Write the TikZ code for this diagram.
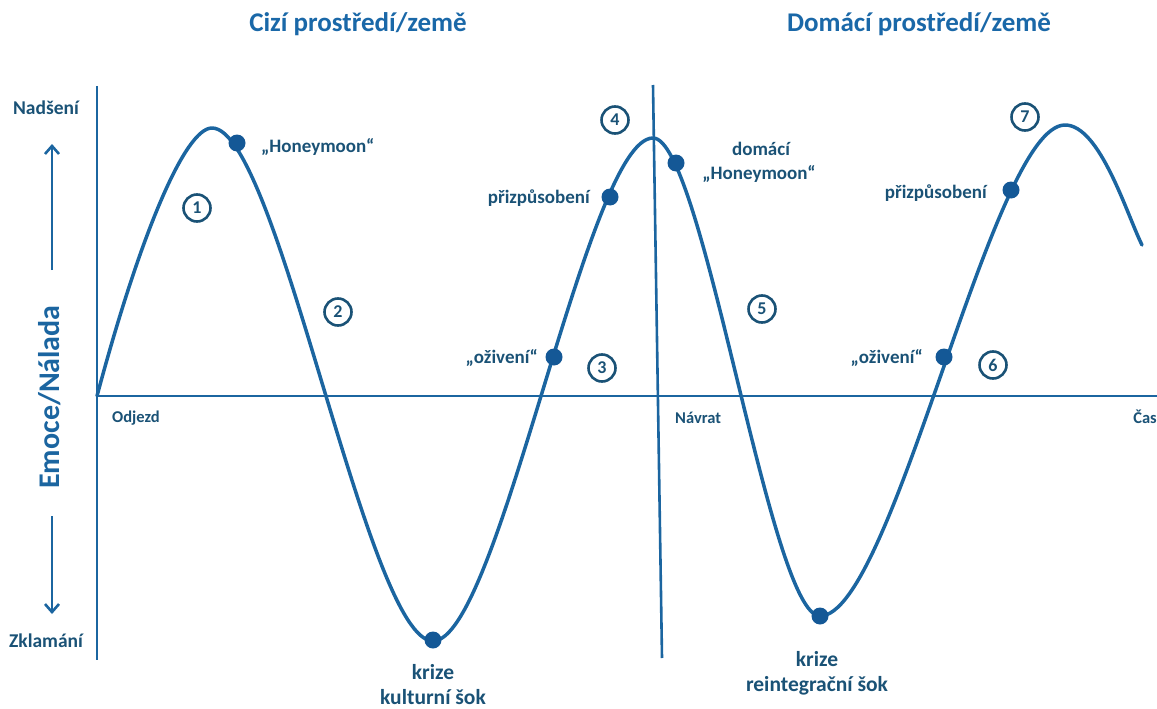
\documentclass[tikz,border=0pt]{standalone}
\usepackage{fontspec}
\setmainfont{Carlito}
\usetikzlibrary{arrows.meta}
\definecolor{lineblue}{RGB}{27,101,160}
\definecolor{dotblue}{RGB}{20,88,150}
\definecolor{textblue}{RGB}{26,82,118}
\definecolor{titleblue}{RGB}{26,104,168}
\begin{document}
\begin{tikzpicture}[x=1pt,y=-1pt,
  curve/.style={lineblue,line width=3.5pt,line join=round,line cap=round},
  axis/.style={lineblue,line width=2.6pt},
  dot/.style={circle,fill=dotblue,inner sep=0pt,minimum size=17pt},
  num/.style={circle,draw=textblue,line width=2.6pt,minimum size=27pt,inner sep=0pt,
    font=\fontsize{18}{18}\selectfont\bfseries,text=textblue},
  lbl/.style={font=\fontsize{19}{24}\selectfont\bfseries,text=textblue,inner sep=0pt,align=center},
  big/.style={font=\fontsize{21.5}{25.5}\selectfont\bfseries,text=textblue,inner sep=0pt,align=center},
  small/.style={font=\fontsize{16.5}{18}\selectfont\bfseries,text=textblue,inner sep=0pt},
  side/.style={font=\fontsize{19.5}{22}\selectfont\bfseries,text=textblue,inner sep=0pt},
  title/.style={font=\fontsize{27}{30}\selectfont\bfseries,text=titleblue,inner sep=0pt},
  arr/.style={lineblue,line width=2.6pt,-{Straight Barb[length=8pt,width=14pt,line width=2.6pt]}}
]
\useasboundingbox (0,0) rectangle (1157,709);

% titles
\node[title,anchor=base] (t1) at (358,32) {Cizí prostředí/země};
\node[title,anchor=base] (t2) at (919,32) {Domácí prostředí/země};

% axes
\coordinate (ytop) at (97,86);
\coordinate (ybot) at (97,660);
\coordinate (xleft) at (97,396);
\coordinate (xright) at (1157,396);
\coordinate (vtop) at (653,85);
\coordinate (vbot) at (662,658);
\draw[axis] (ytop) -- (ybot);
\draw[axis] (xleft) -- (xright);
\draw[axis] (vtop) -- (vbot);

% side labels and arrows
\node[side,anchor=base] (nad) at (46,114) {Nadšení};
\node[side,anchor=base] (zkl) at (46,647) {Zklamání};
\coordinate (upA) at (52,270);
\coordinate (upB) at (52,144);
\coordinate (dnA) at (52,516);
\coordinate (dnB) at (52,614);
\draw[arr] (upA) -- (upB);
\draw[arr] (dnA) -- (dnB);
\node[font=\fontsize{30}{32}\selectfont\bfseries,text=lineblue,rotate=90,inner sep=0pt] (emo) at (50,397) {Emoce/Nálada};

% axis labels
\node[small,anchor=base west] (odj) at (112,422) {Odjezd};
\node[small,anchor=base west] (nav) at (675,423) {Návrat};
\node[small,anchor=base east] (cas) at (1157,423) {Čas};

% curve
\coordinate (c0) at (97,396);
\coordinate (p1) at (212,128);
\coordinate (m1) at (433,641);
\coordinate (p2) at (653,138);
\coordinate (m2) at (820,616);
\coordinate (p3) at (1065,125);
\coordinate (ce) at (1142,245);
\draw[curve] (c0) .. controls (140,235) and (185,128) .. (p1)
  .. controls (278,128) and (367,641) .. (m1)
  .. controls (499,641) and (587,138) .. (p2)
  .. controls (703,138) and (770,616) .. (m2)
  .. controls (893,616) and (992,125) .. (p3)
  .. controls (1100,125) and (1127,215) .. (ce);

% dots
\node[dot] (d1) at (237,143) {};
\node[dot] (d2) at (433,640) {};
\node[dot] (d3) at (554,357) {};
\node[dot] (d4) at (610,197) {};
\node[dot] (d5) at (676,163) {};
\node[dot] (d6) at (820,616) {};
\node[dot] (d7) at (944,357) {};
\node[dot] (d8) at (1011,190) {};

% labels
\node[lbl,anchor=base west] (l1) at (261,152) {„Honeymoon“};
\node[lbl,anchor=base east] (l4) at (590,203) {přizpůsobení};
\node[lbl,anchor=base east] (l3) at (538,363) {„oživení“};
\node[lbl,anchor=base] (l5a) at (761,155) {domácí};
\node[lbl,anchor=base] (l5b) at (759,179) {„Honeymoon“};
\node[lbl,anchor=base east] (l8) at (987,198) {přizpůsobení};
\node[lbl,anchor=base east] (l7) at (923,363) {„oživení“};
\node[big,anchor=north] (l2) at (433,664) {krize\\kulturní šok};
\node[big,anchor=north] (l6) at (817,651) {krize\\reintegrační šok};

% circled numbers
\node[num] (n1) at (197,208) {1};
\node[num] (n2) at (338,312) {2};
\node[num] (n3) at (602,368) {3};
\node[num] (n4) at (615,120) {4};
\node[num] (n5) at (762,309) {5};
\node[num] (n6) at (993,365) {6};
\node[num] (n7) at (1025,117) {7};
\end{tikzpicture}
\end{document}
